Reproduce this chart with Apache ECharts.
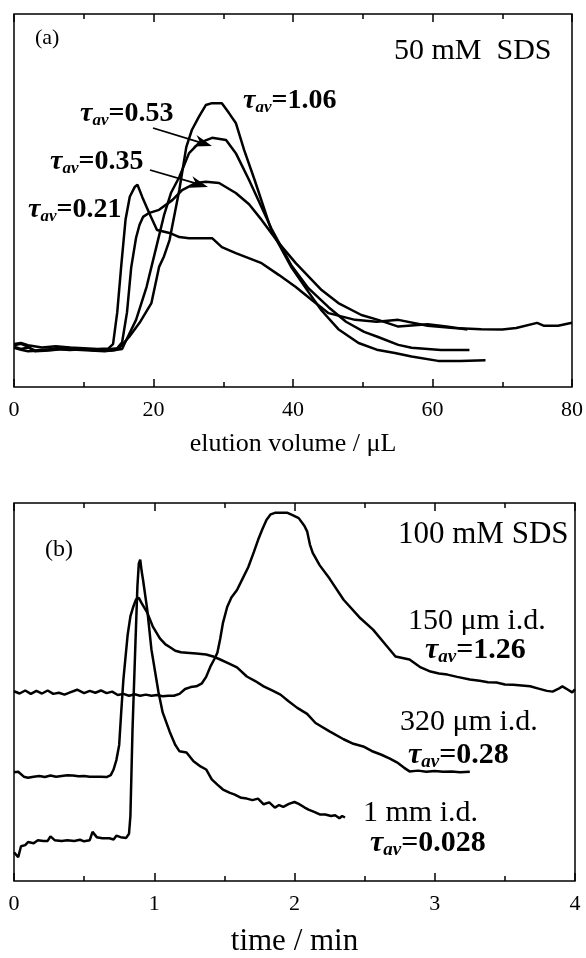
<!DOCTYPE html>
<html><head><meta charset="utf-8">
<script src="https://cdn.jsdelivr.net/npm/echarts@6/dist/echarts.min.js"></script>
<style>html,body{margin:0;padding:0;background:#fff}#c{width:586px;height:958px}</style>
</head><body><div id="c"></div>
<script>
// ---------- Panel (a): elution volume (µL) vs signal (arb. units) ----------
const xTicksA = [0, 20, 40, 60, 80];
const tau021 = [[0,11.5],[1,11.8],[2,11.2],[4,10.6],[6,10.9],[8,10.6],[10,10.4],[12,10.2],[13.5,10.3],[14.2,11.5],[14.8,20],[15.4,33],[16.0,45],[16.6,51],[17.3,53.6],[17.7,54.2],[18.4,50.9],[19.4,46.6],[20.5,42.1],[22.3,41.3],[23.7,40.2],[25.1,39.9],[28.4,39.9],[29.8,37.5],[31.8,35.9],[35.5,33.2],[38,30],[40.4,26.8],[42.7,23.3],[45.1,19.8],[48.9,18.0],[52,17.5],[55.1,18.0],[59.3,16.4],[63,15.8],[67,15.5],[70,15.4],[72,15.8],[75,17.2],[76,16.4],[78,16.4],[80,17.2]];
const tau035 = [[0,10.8],[1,10.2],[2,10.6],[3,9.8],[5,10.1],[7,10.6],[9,10.3],[11,10.0],[13,10.0],[14.8,10.4],[15.5,12],[16.2,20],[16.8,32],[17.5,40],[18,43.5],[18.5,45.6],[19.3,46.6],[20.8,47.5],[22.7,50.1],[24.1,52.8],[26.1,54.7],[27.5,55.0],[29.4,54.7],[31.8,52],[33.7,49],[35.5,44.8],[38,38.5],[40.4,33.2],[44.1,26],[46.5,22.5],[49.8,19.3],[52.2,18],[55.1,16.2],[59.3,16.8],[62,16.2],[65,15.4]];
const tau053 = [[0,10.5],[1,10.0],[2,9.6],[4,9.8],[6,10.2],[8,9.9],[10,10.1],[12,9.7],[14,9.8],[15.5,10.2],[16.1,12.6],[17.5,18],[19,26.8],[20.4,37.5],[21.5,46],[22.5,52],[23.7,56.3],[25.1,62.7],[26.5,65.4],[28.4,66.8],[30.4,66.2],[31.8,62.7],[33.7,55.5],[36.9,42.5],[39.8,32.5],[42.2,26.5],[45.1,21.4],[47.6,17.5],[50.2,14.8],[52.2,13.4],[55.1,11.3],[57,10.5],[61.2,9.9],[65.3,9.9]];
const tau106 = [[0,11.2],[1,11.6],[2,10.8],[3,9.6],[5,9.8],[7,10.2],[9,10.0],[11,9.8],[13,9.6],[14.5,9.9],[15.1,10.5],[16.5,13.4],[18,17.2],[19.7,22.5],[20.8,32.2],[21.5,35],[22.3,39.4],[23.7,52.8],[24.7,64.3],[25.5,68.9],[26.5,72.4],[27.5,75.6],[28.4,76.1],[29.8,76.1],[30.8,73.5],[31.8,70.8],[33,63.5],[34.5,55.5],[36.9,42],[39.8,32],[42.2,25.5],[44.1,20.5],[46.5,15.5],[49.4,11.8],[52,10],[54.6,9.1],[57,8.2],[60.8,7.0],[64,7.0],[67.6,7.2]];

// ---------- Panel (b): time (min) vs signal (arb. units) ----------
const xTicksB = [0, 1, 2, 3, 4];
const um150 = [[0,50.2],[0.04,49.6],[0.08,50.4],[0.12,49.5],[0.16,50.3],[0.2,49.6],[0.24,50.4],[0.28,49.5],[0.32,49.8],[0.36,49.3],[0.4,49.9],[0.45,50.6],[0.5,49.7],[0.54,50.3],[0.58,49.8],[0.62,50.4],[0.66,49.7],[0.7,50.1],[0.74,49.2],[0.78,49.5],[0.82,49.0],[0.86,49.4],[0.9,49.0],[0.94,49.3],[0.98,49.0],[1.02,49.2],[1.06,48.9],[1.1,49.0],[1.14,49.0],[1.18,49.5],[1.22,50.8],[1.26,51.3],[1.3,51.5],[1.34,52.3],[1.37,54],[1.4,56.7],[1.43,58.8],[1.45,60.4],[1.47,64],[1.49,68.3],[1.52,72.5],[1.55,75],[1.59,77],[1.63,80],[1.67,83],[1.71,87],[1.74,90.2],[1.77,93],[1.8,95.5],[1.83,97],[1.86,97.4],[1.95,97.4],[1.99,96.7],[2.03,96],[2.07,94],[2.09,92.5],[2.11,89],[2.13,86.8],[2.18,83.5],[2.25,80.0],[2.35,74.4],[2.47,69.5],[2.56,66.5],[2.65,62.5],[2.72,59.4],[2.82,58.6],[2.9,56.5],[2.97,55.4],[3.03,54.9],[3.09,54.6],[3.16,54.0],[3.25,53.3],[3.32,53.0],[3.38,52.6],[3.44,52.5],[3.5,52.0],[3.56,51.9],[3.62,51.7],[3.68,51.5],[3.74,50.9],[3.8,50.3],[3.84,50.1],[3.88,50.8],[3.91,51.5],[3.95,50.6],[3.98,49.9],[4.0,50.7]];
const um320 = [[0,28.8],[0.03,28.9],[0.07,27.6],[0.1,27.3],[0.14,27.6],[0.18,27.8],[0.22,27.5],[0.26,27.9],[0.3,27.6],[0.34,27.8],[0.38,28.0],[0.42,27.9],[0.46,27.7],[0.5,27.8],[0.54,27.6],[0.58,27.6],[0.62,27.6],[0.66,27.5],[0.69,28.0],[0.71,29.5],[0.73,32],[0.75,36],[0.765,45],[0.78,53.3],[0.81,65],[0.83,70],[0.85,72.5],[0.87,74.5],[0.89,74.9],[0.91,73.5],[0.95,71],[0.99,67.3],[1.04,64.2],[1.08,62.6],[1.11,61.9],[1.15,60.9],[1.19,60.5],[1.23,60.4],[1.3,60.2],[1.37,59.9],[1.42,59.4],[1.47,58.6],[1.53,57.6],[1.59,56.5],[1.66,54.1],[1.72,52.9],[1.78,51.5],[1.84,50.4],[1.9,49.3],[1.96,47.5],[2.02,45.8],[2.09,44.2],[2.15,41.8],[2.25,39.6],[2.35,37.5],[2.42,36.3],[2.49,35.6],[2.55,34.4],[2.62,33.4],[2.68,32.4],[2.73,31.4],[2.78,30.0],[2.82,29.0],[2.88,29.2],[2.94,28.9],[3.0,29.1],[3.06,28.9],[3.12,29.0],[3.18,28.8],[3.25,28.9]];
const mm1 = [[0,7.6],[0.03,6.3],[0.05,9.2],[0.08,9.5],[0.1,10.3],[0.14,10.0],[0.17,10.8],[0.21,10.6],[0.24,10.6],[0.26,11.8],[0.29,10.8],[0.34,10.6],[0.38,10.8],[0.43,10.6],[0.47,10.9],[0.5,10.5],[0.54,10.8],[0.56,13.0],[0.59,11.6],[0.63,11.3],[0.68,11.3],[0.71,11.0],[0.73,12.0],[0.76,11.6],[0.8,11.4],[0.82,12.5],[0.83,17.2],[0.845,40],[0.865,62],[0.88,78],[0.89,84],[0.9,85],[0.91,82],[0.92,79.7],[0.95,71.8],[0.98,61.2],[1.03,50],[1.06,44.6],[1.11,39.5],[1.15,36],[1.18,34.3],[1.23,34],[1.28,31.7],[1.33,30.3],[1.37,29.5],[1.41,26.9],[1.45,25.5],[1.49,24.2],[1.54,23.3],[1.57,22.9],[1.62,22.0],[1.66,21.8],[1.7,21.4],[1.74,21.8],[1.78,20.3],[1.82,20.8],[1.86,19.4],[1.89,20.1],[1.92,19.6],[1.96,20.4],[2.0,20.9],[2.03,20.4],[2.07,19.5],[2.1,18.9],[2.14,18.3],[2.18,17.6],[2.22,17.6],[2.26,17.2],[2.29,17.4],[2.32,16.6],[2.34,17.2],[2.36,16.8]];

const FONT = '"Liberation Serif","Times New Roman",serif';
const chart = echarts.init(document.getElementById('c'), null, {renderer: 'canvas'});

function xAxis(gi, ticks, pos, showLabel, name, nameSize, nameGap) {
  return {
    type: 'value', gridIndex: gi, position: pos,
    min: ticks[0], max: ticks[ticks.length - 1], interval: ticks[1] - ticks[0],
    axisLine: {show: false},
    axisTick: {show: true, inside: true, length: 8, lineStyle: {color: '#000', width: 1.5}},
    minorTick: {show: true, splitNumber: 2, length: 5, lineStyle: {color: '#000', width: 1.5}},
    splitLine: {show: false}, minorSplitLine: {show: false},
    axisLabel: {show: showLabel, color: '#000', fontFamily: FONT, fontSize: 22, margin: 12},
    name: name || '', nameLocation: 'middle', nameGap: nameGap || 0,
    nameTextStyle: {color: '#000', fontFamily: FONT, fontSize: nameSize || 20}
  };
}
function yAxis(gi) {
  return {type: 'value', gridIndex: gi, min: 0, max: 100, show: true,
    axisLine: {show: false}, axisTick: {show: false}, axisLabel: {show: false}, splitLine: {show: false}};
}
function line(data, xi, yi) {
  return {type: 'line', data: data, xAxisIndex: xi, yAxisIndex: yi, showSymbol: false, symbol: 'none',
    lineStyle: {color: '#000', width: 2.5}, silent: true, animation: false};
}

function tauLabel(x, y, val, size) {
  const sub = Math.round(size * 0.62);
  return {type: 'text', x: x, y: y, silent: true,
    style: {text: '{t|τ}{s|av}{n|=' + val + '}', fill: '#000', verticalAlign: 'middle', textVerticalAlign: 'middle',
      rich: {
        t: {fontFamily: FONT, fontStyle: 'italic', fontWeight: 'bold', fontSize: size, fill: '#000'},
        s: {fontFamily: FONT, fontStyle: 'italic', fontWeight: 'bold', fontSize: sub, padding: [Math.round(size * 0.5), 0, 0, 0], fill: '#000'},
        n: {fontFamily: FONT, fontWeight: 'bold', fontSize: size, fill: '#000'}
      }}};
}
function plainText(x, y, txt, size) {
  return {type: 'text', x: x, y: y, silent: true,
    style: {text: txt, fill: '#000', font: size + 'px ' + FONT, verticalAlign: 'middle', textVerticalAlign: 'middle'}};
}
function arrow(x1, y1, x2, y2) {
  const dx = x2 - x1, dy = y2 - y1, len = Math.hypot(dx, dy);
  const ux = dx / len, uy = dy / len, px = -uy, py = ux;
  const L = 18, W = 6;
  const bx = x2 - L * ux, by = y2 - L * uy;
  const nx = x2 - 0.7 * L * ux, ny = y2 - 0.7 * L * uy;
  return [
    {type: 'line', silent: true, shape: {x1: x1, y1: y1, x2: nx, y2: ny}, style: {stroke: '#000', lineWidth: 1.8}},
    {type: 'polygon', silent: true, shape: {points: [[x2, y2], [bx + W * px, by + W * py], [nx, ny], [bx - W * px, by - W * py]]}, style: {fill: '#000'}}
  ];
}

const option = {
  backgroundColor: '#fff',
  animation: false,
  grid: [
    {left: 14, top: 14, width: 561, height: 373, show: true, borderColor: '#000', borderWidth: 1.5, backgroundColor: 'transparent'},
    {left: 14, top: 503, width: 561, height: 379, show: true, borderColor: '#000', borderWidth: 1.5, backgroundColor: 'transparent'}
  ],
  xAxis: [
    xAxis(0, xTicksA, 'bottom', true, 'elution volume / μL', 26, 44),
    xAxis(0, xTicksA, 'top', false),
    xAxis(1, xTicksB, 'bottom', true, 'time / min', 31, 45),
    xAxis(1, xTicksB, 'top', false)
  ],
  yAxis: [yAxis(0), yAxis(1)],
  series: [
    line(tau021, 0, 0), line(tau035, 0, 0), line(tau053, 0, 0), line(tau106, 0, 0),
    line(um150, 2, 1), line(um320, 2, 1), line(mm1, 2, 1)
  ],
  graphic: [
    plainText(35, 38, '(a)', 22),
    plainText(394, 51, '50 mM  SDS', 30),
    tauLabel(243, 101, '1.06', 28),
    tauLabel(80, 114, '0.53', 28),
    tauLabel(50, 162, '0.35', 28),
    tauLabel(28, 210, '0.21', 28),
    ...arrow(153, 128, 212, 146),
    ...arrow(150, 170, 208, 187),
    plainText(45, 550, '(b)', 24),
    plainText(398, 535, '100 mM SDS', 31),
    plainText(408, 621, '150 μm i.d.', 30),
    tauLabel(425, 650, '1.26', 30),
    plainText(400, 722, '320 μm i.d.', 30),
    tauLabel(408, 755, '0.28', 30),
    plainText(363, 813, '1 mm i.d.', 30),
    tauLabel(370, 843, '0.028', 30)
  ]
};
chart.setOption(option);
</script></body></html>
